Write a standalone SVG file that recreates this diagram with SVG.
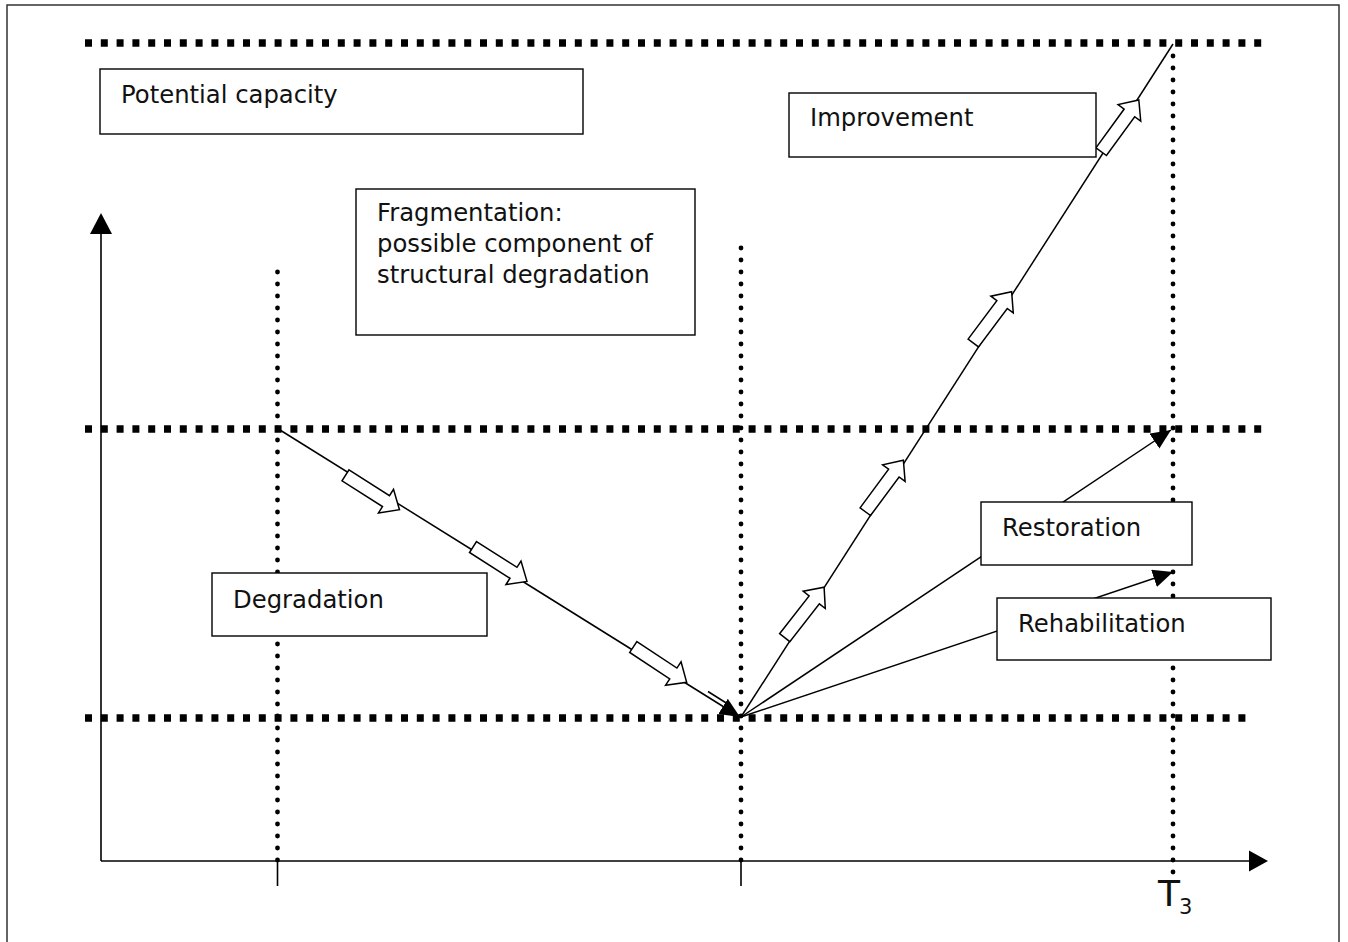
<svg xmlns="http://www.w3.org/2000/svg" xmlns:xlink="http://www.w3.org/1999/xlink" width="1348" height="942" viewBox="0 0 1348 942">
  <style>
    .frame { fill: none; stroke: #333; stroke-width: 1.5; }
    .level { fill: none; stroke: #000; stroke-width: 7.5; stroke-dasharray: 7 8.8; }
    .time { fill: none; stroke: #000; stroke-width: 4.8; stroke-linecap: round; stroke-dasharray: 0 12; }
    .axis { fill: none; stroke: #000; stroke-width: 1.6; }
    .conn { fill: none; stroke: #000; stroke-width: 1.5; }
    .head { fill: #000; stroke: none; }
    .blk { fill: #fff; stroke: #000; stroke-width: 1.5; stroke-linejoin: miter; }
    .box { fill: #fff; stroke: #000; stroke-width: 1.4; }
    .lbl { font-family: "DejaVu Sans", Verdana, sans-serif; font-size: 24.3px; fill: #111; }
    .tlbl { font-family: "DejaVu Sans", Verdana, sans-serif; fill: #111; }
  </style>
  <defs>
    <marker id="tip" markerUnits="userSpaceOnUse" markerWidth="22" markerHeight="20" refX="20" refY="9" orient="auto">
      <path d="M0,0 L20,9 L0,18 z" fill="#000"/>
    </marker>
    <!-- hollow block arrow, tail at origin, pointing along +x -->
    <polygon id="blk" class="blk" points="0,-6.5 48,-6.5 48,-14 64,0 48,14 48,6.5 0,6.5"/>
  </defs>

  <rect width="1348" height="942" fill="#fff"/>
  <rect class="frame" x="7" y="5" width="1332" height="960"/>

  <!-- capacity levels -->
  <g id="levels">
    <line class="level" x1="85" y1="43" x2="1262" y2="43"/>
    <line class="level" x1="85" y1="429" x2="1262" y2="429"/>
    <line class="level" x1="85" y1="718" x2="1246" y2="718"/>
  </g>

  <!-- time markers -->
  <g id="time-markers">
    <line class="time" x1="277.5" y1="272" x2="277.5" y2="861"/>
    <line class="time" x1="741" y1="248" x2="741" y2="861"/>
    <line class="time" x1="1173" y1="56" x2="1173" y2="884"/>
  </g>

  <!-- connectors -->
  <g id="connectors">
    <line class="conn" x1="280" y1="430" x2="740" y2="717" marker-end="url(#tip)"/>
    <line class="conn" x1="708" y1="691.5" x2="727" y2="703.5"/>
    <line class="conn" x1="741" y1="717" x2="1173" y2="44"/>
    <line class="conn" x1="741" y1="717" x2="1171" y2="430" marker-end="url(#tip)"/>
    <line class="conn" x1="741" y1="717" x2="1173" y2="572" marker-end="url(#tip)"/>

    <use xlink:href="#blk" transform="translate(345.5,475.3) rotate(32.5)"/>
    <use xlink:href="#blk" transform="translate(473,547) rotate(32.5)"/>
    <use xlink:href="#blk" transform="translate(633.3,647) rotate(33.5)"/>

    <use xlink:href="#blk" transform="translate(784.7,637.7) rotate(-52)"/>
    <use xlink:href="#blk" transform="translate(865.3,511.7) rotate(-53.5)"/>
    <use xlink:href="#blk" transform="translate(973.3,343) rotate(-53.2)"/>
    <use xlink:href="#blk" transform="translate(1101.2,151.7) rotate(-54)"/>
  </g>

  <!-- axes -->
  <g id="axes">
    <line class="axis" x1="101" y1="861" x2="101" y2="228"/>
    <polygon class="head" points="101,213 90,234 112,234"/>
    <line class="axis" x1="101" y1="861" x2="1252" y2="861"/>
    <polygon class="head" points="1268,861 1249,850.5 1249,871.5"/>
    <line class="axis" x1="277.5" y1="861" x2="277.5" y2="886"/>
    <line class="axis" x1="741" y1="861" x2="741" y2="886"/>
    <text class="tlbl" x="1158" y="905.5" font-size="36">T</text>
    <text class="tlbl" x="1179" y="914" font-size="21">3</text>
  </g>

  <g id="potential-capacity">
    <rect class="box" x="100" y="69" width="483" height="65"/>
    <text class="lbl" x="121" y="102.5">Potential capacity</text>
  </g>

  <g id="improvement">
    <rect class="box" x="789" y="93" width="307" height="64"/>
    <text class="lbl" x="810" y="126">Improvement</text>
  </g>

  <g id="fragmentation">
    <rect class="box" x="356" y="189" width="339" height="146"/>
    <text class="lbl" x="377" y="221">Fragmentation:</text>
    <text class="lbl" x="377" y="252">possible component of</text>
    <text class="lbl" x="377" y="283">structural degradation</text>
  </g>

  <g id="degradation">
    <rect class="box" x="212" y="573" width="275" height="63"/>
    <text class="lbl" x="233" y="608">Degradation</text>
  </g>

  <g id="restoration">
    <rect class="box" x="981" y="502" width="211" height="63"/>
    <text class="lbl" x="1002" y="536">Restoration</text>
  </g>

  <g id="rehabilitation">
    <rect class="box" x="997" y="598" width="274" height="62"/>
    <text class="lbl" x="1018" y="632">Rehabilitation</text>
  </g>
</svg>
